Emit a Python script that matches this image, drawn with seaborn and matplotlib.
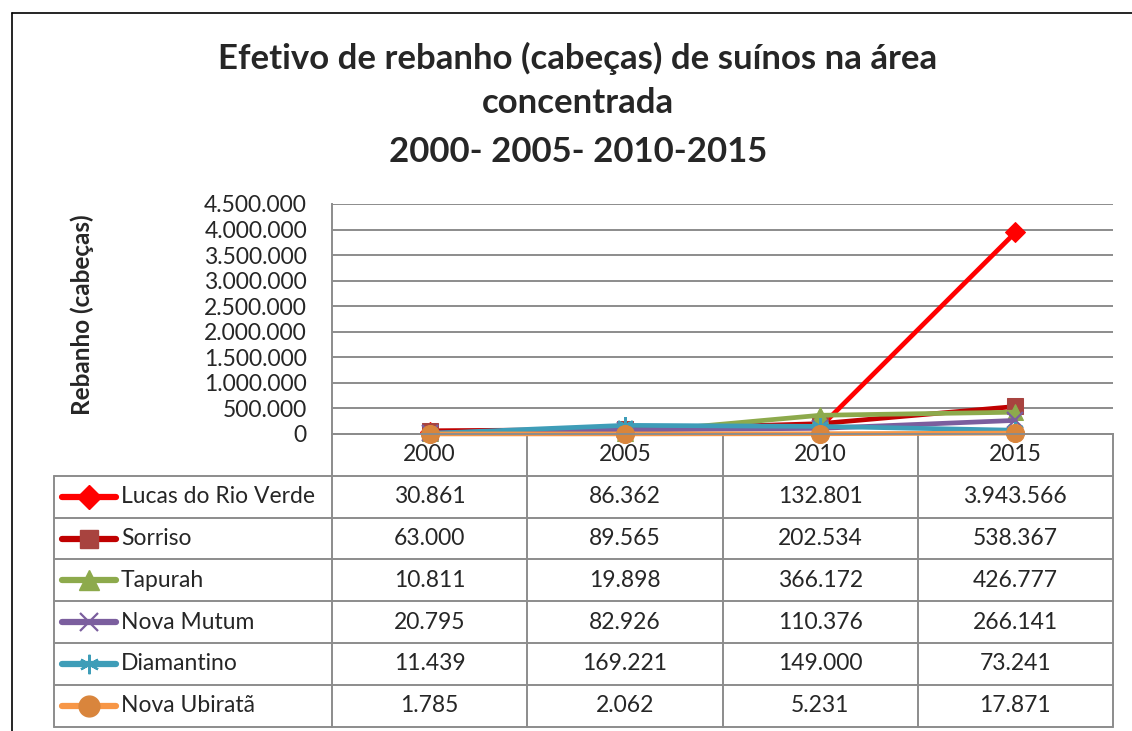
import matplotlib
matplotlib.use("Agg")
import matplotlib.pyplot as plt
from matplotlib.lines import Line2D
import numpy as np
import pandas as pd
import seaborn as sns

# dados
anos = ["2000", "2005", "2010", "2015"]
municipios = ["Lucas do Rio Verde", "Sorriso", "Tapurah", "Nova Mutum", "Diamantino", "Nova Ubiratã"]
lucas = [30861, 86362, 132801, 3943566]
sorriso = [63000, 89565, 202534, 538367]
tapurah = [10811, 19898, 366172, 426777]
nova_mutum = [20795, 82926, 110376, 266141]
diamantino = [11439, 169221, 149000, 73241]
nova_ubirata = [1785, 2062, 5231, 17871]
valores = [lucas, sorriso, tapurah, nova_mutum, diamantino, nova_ubirata]
y_ticks = [0, 500000, 1000000, 1500000, 2000000, 2500000, 3000000, 3500000, 4000000, 4500000]
titulo = ["Efetivo de rebanho (cabeças) de suínos na área", "concentrada", "2000- 2005- 2010-2015"]

# estilo de cada serie: cor da linha, marcador, cor do marcador, tamanho
estilos = {
    "Lucas do Rio Verde": ("#FF0000", "D", "#FF0000", 10),
    "Sorriso": ("#C00000", "s", "#A8433F", 11),
    "Tapurah": ("#8DAA4C", "^", "#8DAA4C", 12),
    "Nova Mutum": ("#7B5E9E", "x", "#7B5E9E", 11),
    "Diamantino": ("#3E9DB8", "*", "#3E9DB8", 0),
    "Nova Ubiratã": ("#F79646", "o", "#D9853C", 13),
}

linhas = []
for nome, vals in zip(municipios, valores):
    for i, v in enumerate(vals):
        linhas.append({"municipio": nome, "pos": i, "valor": v})
df = pd.DataFrame(linhas)

sns.set_style("white")
plt.rcParams["font.family"] = ["Lato", "DejaVu Sans"]

W, H = 1132, 731
fig = plt.figure(figsize=(W / 100, H / 100), dpi=100)

def fx(px):
    return px / W

def fy(py):
    return 1 - py / H

fmt = lambda v: f"{v:,}".replace(",", ".")
fs = 16.5

# eixo do grafico
x0, x1, y_top, y_bot = 332, 1113, 204, 434
ax = fig.add_axes([fx(x0), fy(y_bot), fx(x1 - x0), (y_bot - y_top) / H])

for nome in municipios:
    cor, mk, mcor, ms = estilos[nome]
    sub = df[df["municipio"] == nome]
    kw = dict(marker=mk, markersize=ms, markerfacecolor=mcor, markeredgecolor=mcor)
    if mk in ("x", "*"):
        kw = dict(marker="x" if mk == "x" else (6, 2, 0), markersize=12, markeredgewidth=1.6,
                  markeredgecolor=mcor)
    sns.lineplot(data=sub, x="pos", y="valor", ax=ax, color=cor, linewidth=3.4,
                 legend=False, clip_on=False, **kw)

ax.set_xlim(-0.5, len(anos) - 0.5)
ax.set_ylim(0, 4500000)
ax.set_yticks(y_ticks)
ax.set_yticklabels([fmt(t) for t in y_ticks], fontsize=fs)
ax.tick_params(axis="y", length=0, pad=18)
ax.set_xticks([])
ax.set_xlabel("")
ax.set_ylabel("Rebanho (cabeças)", fontsize=17.5, fontweight="bold")
ax.yaxis.set_label_coords(-0.305, 0.52)
ax.grid(axis="y", color="#8c8c8c", linewidth=1.4)
ax.set_axisbelow(True)
for s in ["top", "right"]:
    ax.spines[s].set_visible(False)
for s in ["left", "bottom"]:
    ax.spines[s].set_color("#8c8c8c")
    ax.spines[s].set_linewidth(1.4)

# tabela de dados (em pixels)
tab = fig.add_axes([0, 0, 1, 1], zorder=-1)
tab.set_xlim(0, W)
tab.set_ylim(H, 0)
tab.axis("off")

gc = "#8c8c8c"
row_h = 41.8
col_w = (x1 - x0) / len(anos)
t_left = 54
n = len(municipios)
y_rows = [y_bot + row_h * k for k in range(n + 2)]

tab.plot([x0, x1], [y_rows[0], y_rows[0]], color=gc, lw=1.4)
for k in range(1, n + 2):
    tab.plot([t_left, x1], [y_rows[k], y_rows[k]], color=gc, lw=1.4)
tab.plot([t_left, t_left], [y_rows[1], y_rows[-1]], color=gc, lw=1.4)
for j in range(len(anos) + 1):
    xv = x0 + col_w * j
    tab.plot([xv, xv], [y_rows[0], y_rows[-1]], color=gc, lw=1.4)

for j, ano in enumerate(anos):
    tab.text(x0 + col_w * (j + 0.5), (y_rows[0] + y_rows[1]) / 2, ano,
             ha="center", va="center", fontsize=fs)

for i, (nome, vals) in enumerate(zip(municipios, valores)):
    yc = (y_rows[i + 1] + y_rows[i + 2]) / 2
    cor, mk, mcor, ms = estilos[nome]
    tab.plot([62, 116], [yc, yc], color=cor, lw=4.5, solid_capstyle="round")
    if mk == "x":
        tab.plot([89], [yc], marker="x", markersize=13, markeredgewidth=1.6, color=mcor)
    elif mk == "*":
        tab.plot([89], [yc], marker=(6, 2, 0), markersize=14, markeredgewidth=1.6, color=mcor)
    else:
        tab.plot([89], [yc], marker=mk, markersize=ms + 2, color=mcor, markeredgecolor=mcor)
    tab.text(121, yc, nome, ha="left", va="center", fontsize=fs)
    for j, v in enumerate(vals):
        tab.text(x0 + col_w * (j + 0.5), yc, fmt(v), ha="center", va="center", fontsize=fs)

# titulo
for linha, yt in zip(titulo, [58, 103, 152]):
    fig.text(fx(578), fy(yt), linha, ha="center", va="center", fontsize=25, fontweight="bold")

# moldura externa
fig.add_artist(Line2D([fx(12), fx(12)], [fy(13), 0], color="black", lw=1.2))
fig.add_artist(Line2D([fx(12), 1], [fy(13), fy(13)], color="black", lw=1.2))

fig.savefig("out.png", dpi=100)
